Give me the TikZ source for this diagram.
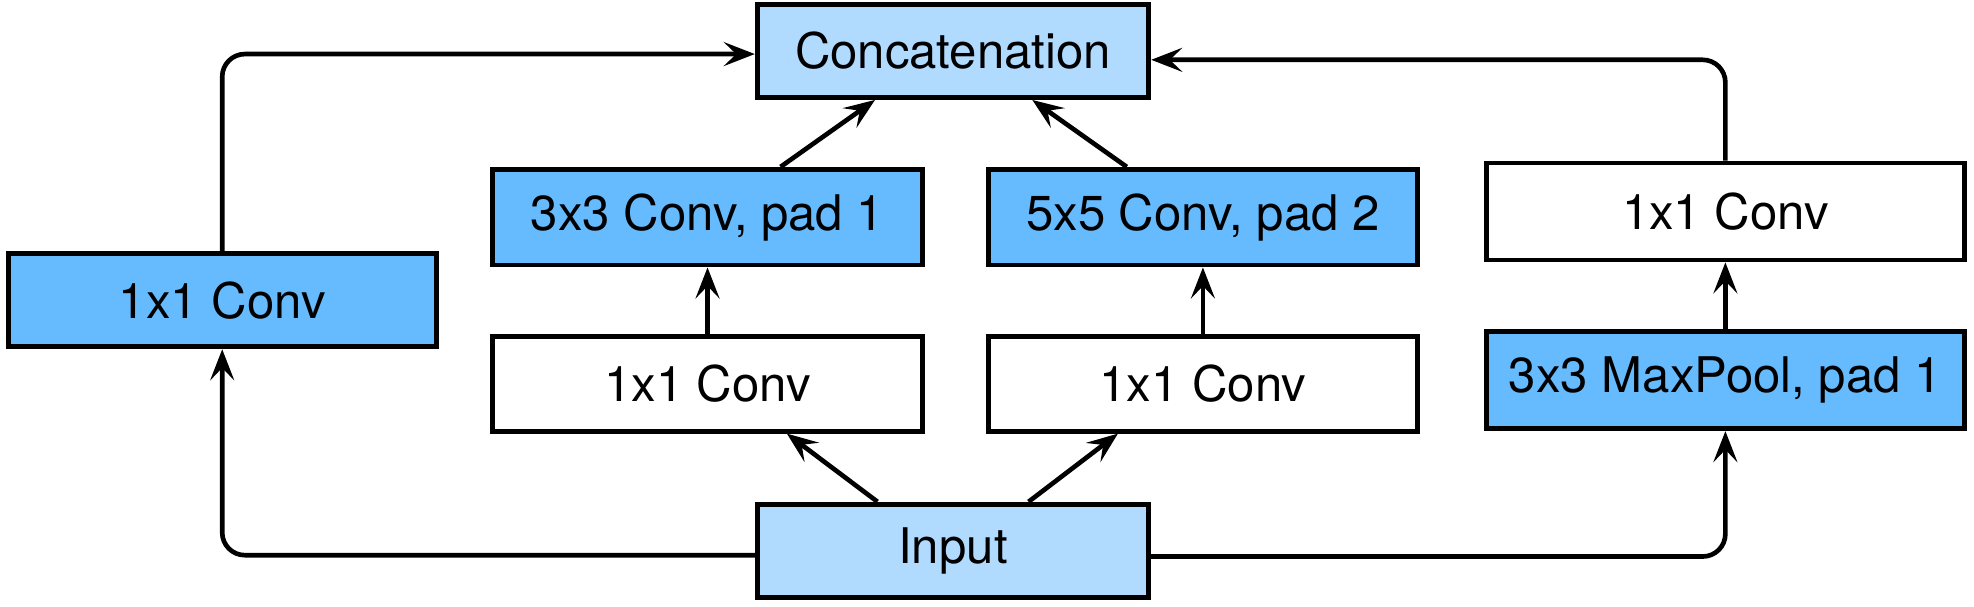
\documentclass[tikz,border=0pt]{standalone}
\usepackage{fontspec}
\setmainfont{TeX Gyre Heros}
\usetikzlibrary{arrows.meta,positioning}

\definecolor{convblue}{HTML}{66BBFF}
\definecolor{ioblue}{HTML}{B0DBFF}

\tikzset{
  block/.style={draw,line width=1.1pt,inner sep=0pt,font=\fontsize{11.1}{13}\selectfont},
  dark/.style={block,fill=convblue},
  light/.style={block,fill=ioblue,minimum width=3.11cm,minimum height=0.74cm},
  plain/.style={block,fill=white},
}

\begin{document}
\begin{tikzpicture}[>={Stealth[length=7pt,width=5.4pt,inset=2.8pt]},line width=1.05pt,on grid]
    \useasboundingbox (0,0) rectangle (15.68,4.8215);

    \node[light] (input) at (7.57,0.4465) {Input};
    \node[light] (concat) [above=3.97cm of input] {Concatenation};
    \node[plain,minimum width=3.41cm,minimum height=0.75cm] (red3) [above left=1.325cm and 1.95cm of input] {1x1 Conv};
    \node[plain,minimum width=3.41cm,minimum height=0.75cm] (red5) [above right=1.325cm and 1.985cm of input] {1x1 Conv};
    \node[dark,minimum width=3.41cm,minimum height=0.76cm] (conv3) [above=1.325cm of red3] {3x3 Conv, pad 1};
    \node[dark,minimum width=3.41cm,minimum height=0.76cm] (conv5) [above=1.325cm of red5] {5x5 Conv, pad 2};
    \node[dark,minimum width=3.80cm,minimum height=0.77cm] (pool) [above right=0.03cm and 4.15cm of red5] {3x3 MaxPool, pad 1};
    \node[plain,minimum width=3.80cm,minimum height=0.77cm] (poolconv) [above=1.34cm of pool] {1x1 Conv};
    \node[dark,minimum width=3.40cm,minimum height=0.74cm] (left) [above left=0.665cm and 3.855cm of red3] {1x1 Conv};

    % outer paths
    \draw[->,rounded corners=0.18cm] ([yshift=-1pt]input.west) -| (left.south);
    \draw[->,rounded corners=0.18cm] (left.north) |- ([yshift=-0.7pt]concat.west);
    \draw[->,rounded corners=0.18cm] ([yshift=-1.3pt]input.east) -| (pool.south);
    \draw[->,rounded corners=0.18cm] (poolconv.north) |- ([yshift=-2pt]concat.east);

    % inner paths
    \draw[->] ([xshift=-0.6cm]input.north) -- ([xshift=0.63cm]red3.south);
    \draw[->] ([xshift=0.6cm]input.north) -- ([xshift=-0.675cm]red5.south);
    \draw[->] (red3) -- (conv3);
    \draw[->] (red5) -- (conv5);
    \draw[->] (pool) -- (poolconv);
    \draw[->] ([xshift=0.58cm]conv3.north) -- ([xshift=-0.62cm]concat.south);
    \draw[->] ([xshift=-0.605cm]conv5.north) -- ([xshift=0.63cm]concat.south);
\end{tikzpicture}
\end{document}
